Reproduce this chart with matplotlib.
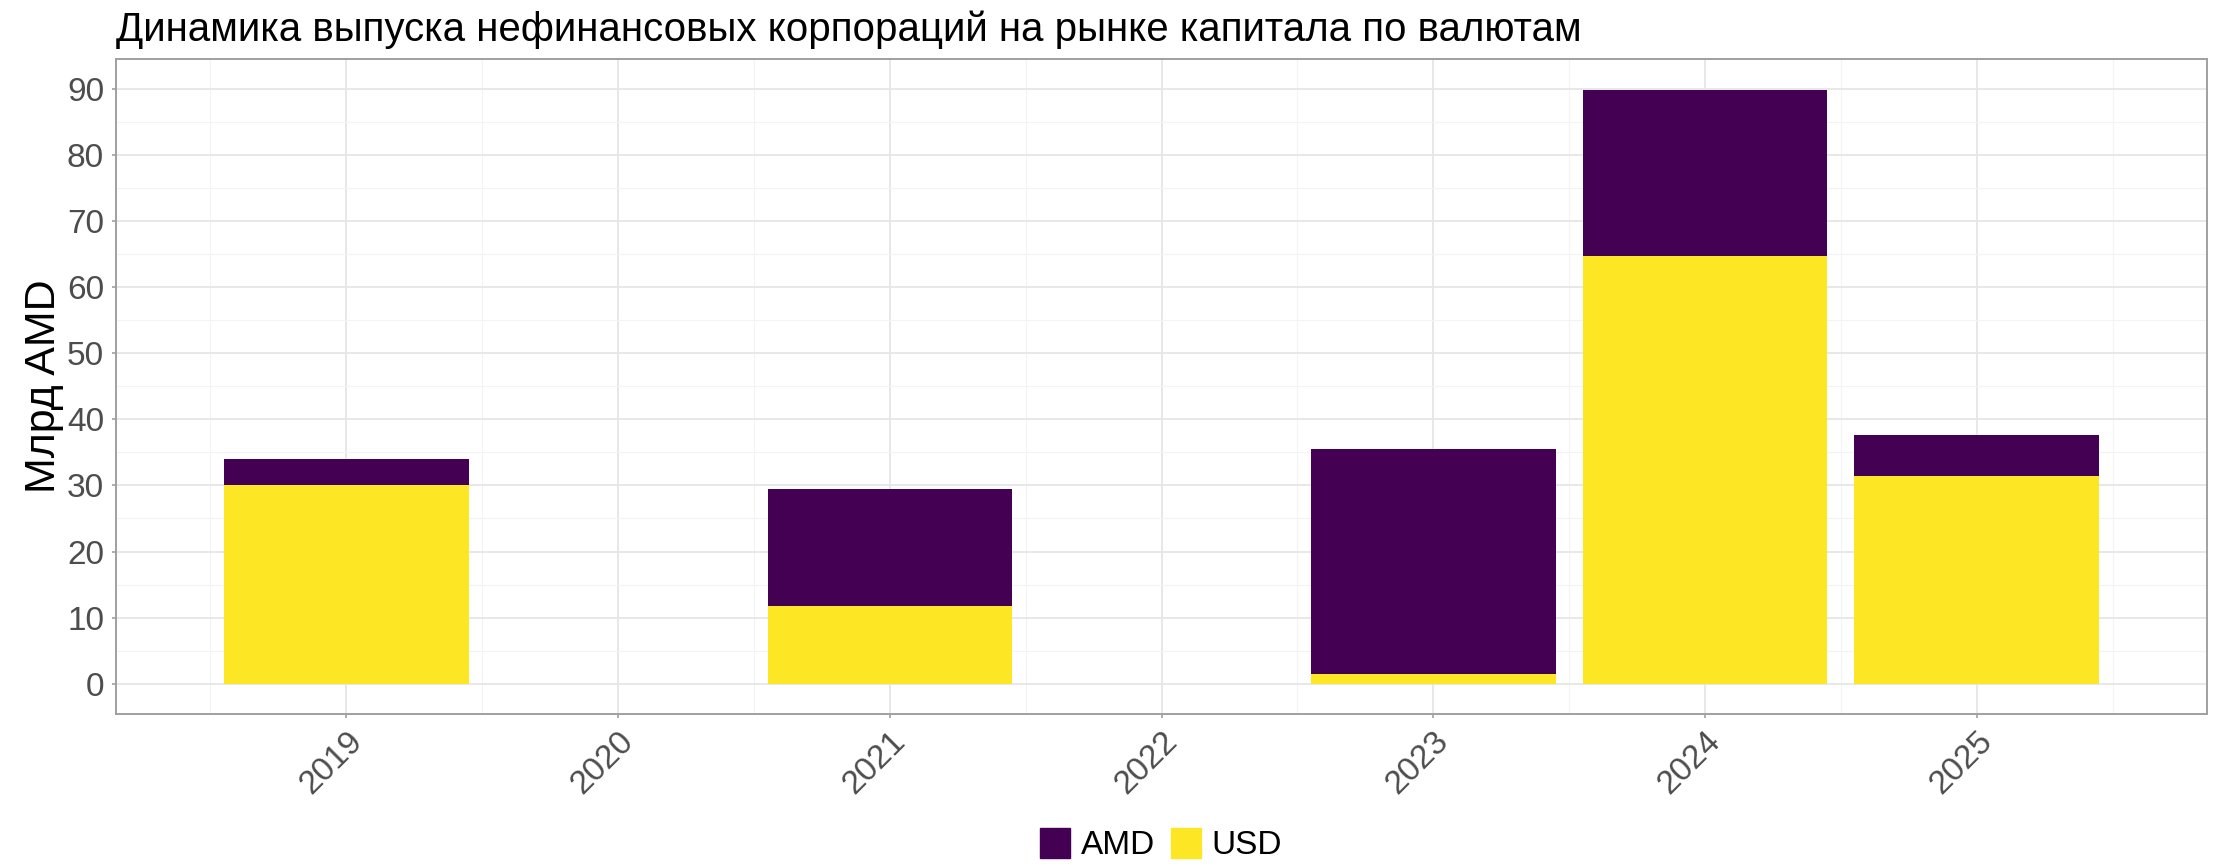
#!/usr/bin/env python

from matplotlib import pyplot as plt
from matplotlib.patches import Patch
from matplotlib.ticker import MultipleLocator
import numpy as np

years = [2019, 2020, 2021, 2022, 2023, 2024, 2025]
usd = [30.0, 0, 11.7, 0, 1.5, 64.7, 31.5]
amd = [4.0, 0, 17.7, 0, 34.0, 25.1, 6.2]
series = ['AMD', 'USD']
colors = {'AMD': '#440154', 'USD': '#FDE725'}

title = 'Динамика выпуска нефинансовых корпораций на рынке капитала по валютам'
ylabel = 'Млрд AMD'

plt.rcParams['font.family'] = ['Liberation Sans', 'DejaVu Sans']

fig = plt.figure(figsize=(22.16, 8.66), dpi=100)
ax = fig.add_axes([0.0523, 0.176, 0.9437, 0.756])

x = np.array(years)
ax.bar(x, usd, width=0.9, color=colors['USD'], zorder=3)
ax.bar(x, amd, width=0.9, bottom=usd, color=colors['AMD'], zorder=3)

ax.set_xlim(2018.152, 2025.848)
ax.set_ylim(-4.5, 94.5)
ax.set_xticks(years)
ax.set_xticklabels([str(y) for y in years], rotation=45, ha='right', va='top',
                   rotation_mode='anchor')
ax.set_yticks(range(0, 91, 10))
ax.xaxis.set_minor_locator(MultipleLocator(0.5))
ax.yaxis.set_minor_locator(MultipleLocator(5))

ax.grid(which='major', color='#E6E6E6', linewidth=1.3, zorder=0)
ax.grid(which='minor', color='#F3F3F3', linewidth=0.8, zorder=0)
ax.tick_params(which='minor', length=0)
ax.tick_params(which='major', length=3, width=1.2, color='#A0A0A0',
               labelsize=24, labelcolor='#4D4D4D', pad=5.5)
ax.tick_params(axis='x', pad=6)
for s in ax.spines.values():
    s.set_color('#A0A0A0')
    s.set_linewidth(1.4)

ax.set_ylabel(ylabel, fontsize=31, color='black')
ax.yaxis.set_label_coords(-0.025, 0.5)

fig.text(0.0523, 0.953, title, fontsize=29, color='black', ha='left', va='baseline')

handles = [Patch(color=colors[s], label=s) for s in series]
fig.legend(handles=handles, loc='center', bbox_to_anchor=(0.524, 0.025), ncol=2,
           frameon=False, fontsize=24, handlelength=0.9, handleheight=1.0,
           handletextpad=0.3, columnspacing=0.5)

fig.savefig('out.png', dpi=100)
